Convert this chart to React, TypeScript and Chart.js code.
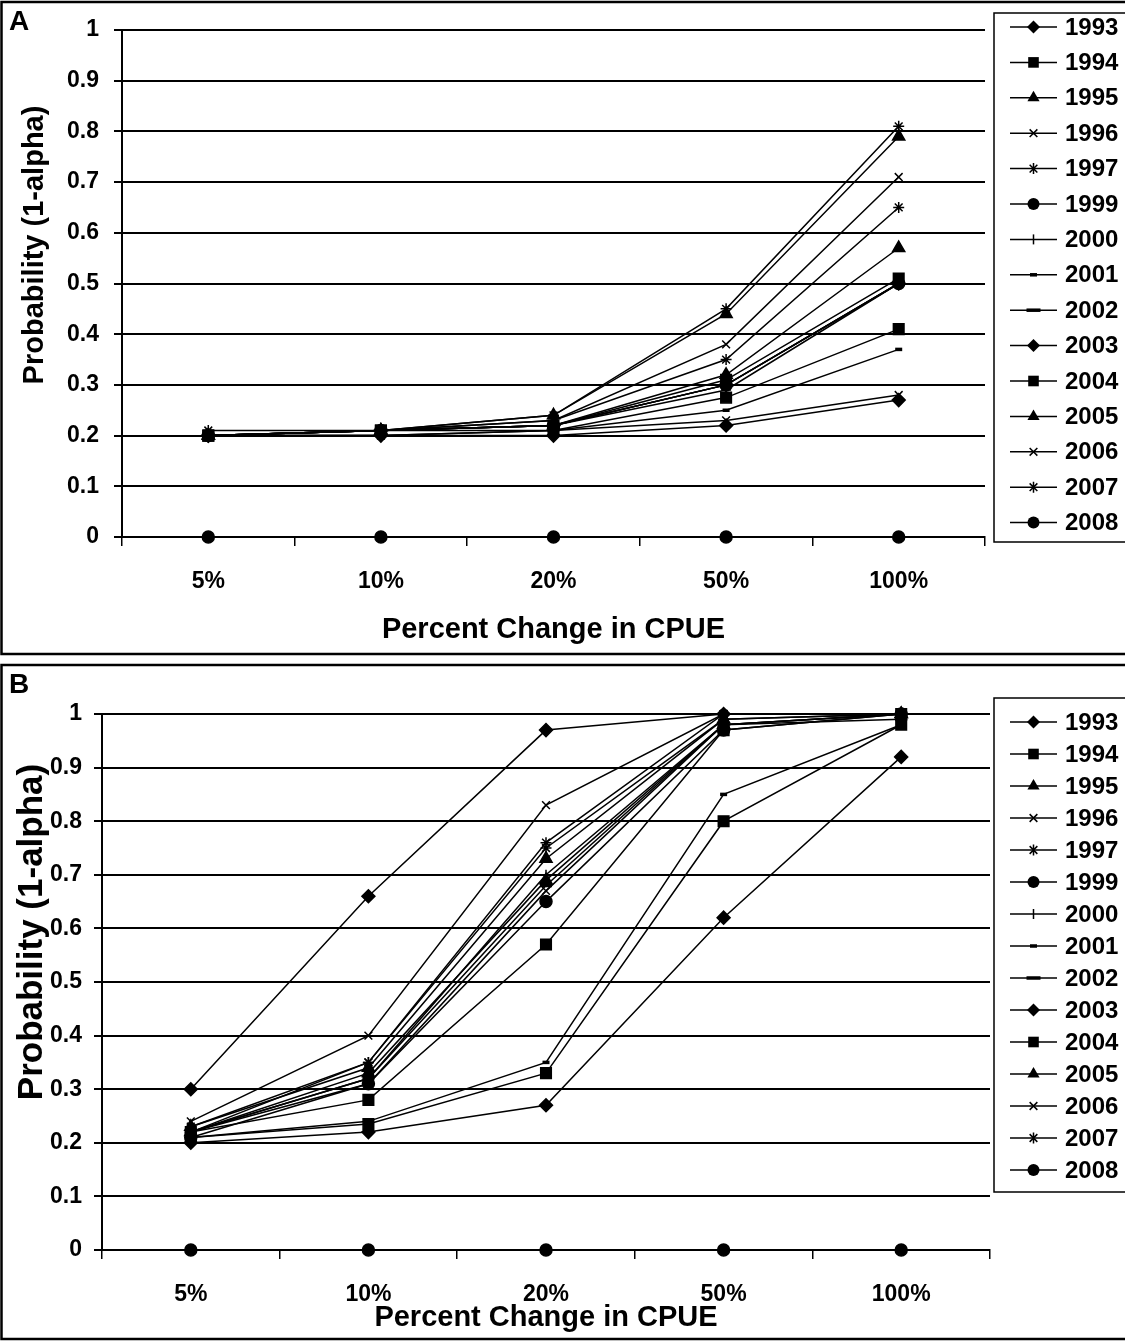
import React, { useEffect, useRef } from 'react';
import { Chart, registerables } from 'chart.js';

Chart.register(...registerables);

const categories = ['5%', '10%', '20%', '50%', '100%'];
const years = ['1993', '1994', '1995', '1996', '1997', '1999', '2000', '2001', '2002', '2003', '2004', '2005', '2006', '2007', '2008'];
const yTickStep = 0.1;
const yAxisTitle = 'Probability (1-alpha)';
const xAxisTitle = 'Percent Change in CPUE';

// Panel A values (probability at 5%, 10%, 20%, 50%, 100%)
const A_1993 = [0.20, 0.21, 0.22, 0.30, 0.50];
const A_1994 = [0.20, 0.21, 0.22, 0.31, 0.51];
const A_1995 = [0.20, 0.21, 0.24, 0.44, 0.79];
const A_1996 = [0.20, 0.21, 0.23, 0.38, 0.71];
const A_1997 = [0.21, 0.21, 0.24, 0.45, 0.81];
const A_1999 = [0.20, 0.21, 0.22, 0.30, 0.50];
const A_2000 = [0.20, 0.21, 0.22, 0.29, 0.50];
const A_2001 = [0.20, 0.20, 0.21, 0.25, 0.37];
const A_2002 = [0.20, 0.21, 0.22, 0.30, 0.50];
const A_2003 = [0.20, 0.20, 0.20, 0.22, 0.27];
const A_2004 = [0.20, 0.21, 0.21, 0.275, 0.41];
const A_2005 = [0.20, 0.21, 0.22, 0.32, 0.57];
const A_2006 = [0.20, 0.20, 0.21, 0.23, 0.28];
const A_2007 = [0.20, 0.21, 0.23, 0.35, 0.65];
const A_2008 = [0, 0, 0, 0, 0];

// Panel B values
const B_1993 = [0.30, 0.66, 0.97, 1.0, 1.0];
const B_1994 = [0.22, 0.28, 0.57, 0.97, 1.0];
const B_1995 = [0.23, 0.34, 0.73, 0.99, 1.0];
const B_1996 = [0.24, 0.40, 0.83, 1.0, 1.0];
const B_1997 = [0.23, 0.35, 0.76, 1.0, 1.0];
const B_1999 = [0.21, 0.31, 0.65, 0.97, 1.0];
const B_2000 = [0.22, 0.32, 0.70, 0.98, 1.0];
const B_2001 = [0.21, 0.24, 0.35, 0.85, 0.98];
const B_2002 = [0.22, 0.32, 0.68, 0.98, 0.99];
const B_2003 = [0.20, 0.22, 0.27, 0.62, 0.92];
const B_2004 = [0.21, 0.235, 0.33, 0.80, 0.98];
const B_2005 = [0.22, 0.33, 0.69, 0.98, 1.0];
const B_2006 = [0.22, 0.31, 0.67, 0.98, 1.0];
const B_2007 = [0.22, 0.35, 0.75, 0.99, 1.0];
const B_2008 = [0, 0, 0, 0, 0];

const seriesA = [A_1993, A_1994, A_1995, A_1996, A_1997, A_1999, A_2000, A_2001, A_2002, A_2003, A_2004, A_2005, A_2006, A_2007, A_2008];
const seriesB = [B_1993, B_1994, B_1995, B_1996, B_1997, B_1999, B_2000, B_2001, B_2002, B_2003, B_2004, B_2005, B_2006, B_2007, B_2008];

// marker styles per year (style only)
const markerStyles = ['rectRot', 'rect', 'triangle', 'crossRot', 'star', 'circle', 'cross', 'line', 'line', 'rectRot', 'rect', 'triangle', 'crossRot', 'star', 'circle'];
const markerRadius: Record<string, number> = { rectRot: 6.5, rect: 7.5, triangle: 7, crossRot: 5.5, star: 5.5, circle: 6, cross: 5, line: 4 };

const FONT = "'Liberation Sans', Arial, sans-serif";

function drawMarker(ctx: CanvasRenderingContext2D, style: string, x: number, y: number, r: number, idx: number) {
  ctx.save();
  ctx.fillStyle = '#000';
  ctx.strokeStyle = '#000';
  ctx.lineWidth = 1.5;
  ctx.beginPath();
  if (style === 'rectRot') {
    ctx.moveTo(x, y - r); ctx.lineTo(x + r, y); ctx.lineTo(x, y + r); ctx.lineTo(x - r, y); ctx.closePath(); ctx.fill();
  } else if (style === 'rect') {
    const s = r * Math.SQRT1_2;
    ctx.rect(x - s, y - s, 2 * s, 2 * s); ctx.fill();
  } else if (style === 'triangle') {
    ctx.moveTo(x, y - r); ctx.lineTo(x + r * 0.87, y + r * 0.5); ctx.lineTo(x - r * 0.87, y + r * 0.5); ctx.closePath(); ctx.fill();
  } else if (style === 'crossRot') {
    const d = r * 0.7;
    ctx.moveTo(x - d, y - d); ctx.lineTo(x + d, y + d); ctx.moveTo(x + d, y - d); ctx.lineTo(x - d, y + d); ctx.stroke();
  } else if (style === 'star') {
    const d = r * 0.7;
    ctx.moveTo(x - d, y - d); ctx.lineTo(x + d, y + d); ctx.moveTo(x + d, y - d); ctx.lineTo(x - d, y + d);
    ctx.moveTo(x, y - r); ctx.lineTo(x, y + r); ctx.stroke();
  } else if (style === 'circle') {
    ctx.arc(x, y, r, 0, Math.PI * 2); ctx.fill();
  } else if (style === 'cross') {
    ctx.moveTo(x, y - r); ctx.lineTo(x, y + r); ctx.stroke();
  } else if (style === 'line') {
    ctx.lineWidth = 3.5;
    const w = idx === 8 ? 7 : 3.5;
    ctx.moveTo(x - w, y); ctx.lineTo(x + w, y); ctx.stroke();
  }
  ctx.restore();
}

type PanelCfg = {
  letter: string;
  values: number[][];
  width: number;
  height: number;
  top: number;
  padTop: number;
  padRight: number;
  yWidth: number;
  xHeight: number;
  yLabelPad: number;
  xLabelPad: number;
  xTitlePad: number;
  yTitleX: number;
  yTitleY: number;
  yTitleSize: number;
  borderTop: number;
  borderBottom: number;
  letterY: number;
  legendTop: number;
  legendBottom: number;
  legendRow0: number;
  legendStep: number;
};

const panelA: PanelCfg = {
  letter: 'A', values: seriesA, width: 1125, height: 658, top: 0,
  padTop: 30, padRight: 140, yWidth: 122, xHeight: 121,
  yLabelPad: 15, xLabelPad: 22, xTitlePad: 11,
  yTitleX: 35, yTitleY: 245, yTitleSize: 29,
  borderTop: 2, borderBottom: 654, letterY: 22,
  legendTop: 13, legendBottom: 542, legendRow0: 27, legendStep: 35.4,
};

const panelB: PanelCfg = {
  letter: 'B', values: seriesB, width: 1125, height: 683, top: 658,
  padTop: 56, padRight: 135, yWidth: 102, xHeight: 91,
  yLabelPad: 12, xLabelPad: 22, xTitlePad: 6,
  yTitleX: 32, yTitleY: 274, yTitleSize: 35,
  borderTop: 7, borderBottom: 681, letterY: 27,
  legendTop: 40, legendBottom: 534, legendRow0: 64, legendStep: 32,
};

function Panel({ cfg }: { cfg: PanelCfg }) {
  const ref = useRef<HTMLCanvasElement>(null);
  useEffect(() => {
    const canvas = ref.current;
    if (!canvas) return;
    const deco = {
      id: 'panelDeco',
      afterDraw(chart: any) {
        const ctx: CanvasRenderingContext2D = chart.ctx;
        ctx.save();
        ctx.strokeStyle = '#000';
        ctx.lineWidth = 2.5;
        ctx.beginPath();
        ctx.moveTo(cfg.width + 5, cfg.borderTop);
        ctx.lineTo(1.5, cfg.borderTop);
        ctx.lineTo(1.5, cfg.borderBottom);
        ctx.lineTo(cfg.width + 5, cfg.borderBottom);
        ctx.stroke();
        ctx.fillStyle = '#000';
        ctx.font = `bold 28px ${FONT}`;
        ctx.textAlign = 'left';
        ctx.textBaseline = 'middle';
        ctx.fillText(cfg.letter, 9, cfg.letterY);
        // y axis title
        ctx.save();
        ctx.translate(cfg.yTitleX, cfg.yTitleY);
        ctx.rotate(-Math.PI / 2);
        ctx.textAlign = 'center';
        ctx.textBaseline = 'middle';
        ctx.font = `bold ${cfg.yTitleSize}px ${FONT}`;
        ctx.fillText(yAxisTitle, 0, 0);
        ctx.restore();
        // legend box
        ctx.lineWidth = 1.5;
        ctx.beginPath();
        ctx.moveTo(cfg.width + 5, cfg.legendTop);
        ctx.lineTo(994, cfg.legendTop);
        ctx.lineTo(994, cfg.legendBottom);
        ctx.lineTo(cfg.width + 5, cfg.legendBottom);
        ctx.stroke();
        ctx.font = `bold 24px ${FONT}`;
        ctx.textAlign = 'left';
        ctx.textBaseline = 'middle';
        years.forEach((yr, i) => {
          const y = cfg.legendRow0 + i * cfg.legendStep;
          ctx.beginPath();
          ctx.lineWidth = 1.5;
          ctx.moveTo(1010, y);
          ctx.lineTo(1057, y);
          ctx.stroke();
          const st = markerStyles[i];
          drawMarker(ctx, st, 1033.5, y, markerRadius[st], i);
          ctx.fillText(yr, 1065, y + 1);
        });
        ctx.restore();
      },
    };
    const datasets = years.map((yr, i) => {
      const st = markerStyles[i];
      const isLine = st === 'line';
      return {
        label: yr,
        data: cfg.values[i],
        borderColor: '#000',
        backgroundColor: '#000',
        borderWidth: 1.5,
        pointStyle: st,
        pointRadius: isLine ? (i === 8 ? 6 : 3.5) : markerRadius[st],
        pointBorderWidth: isLine ? 3.5 : 1.5,
        pointBackgroundColor: '#000',
        pointBorderColor: '#000',
        tension: 0,
        clip: false,
      };
    });
    const chart = new Chart(canvas, {
      type: 'line',
      data: { labels: categories, datasets },
      options: {
        responsive: false,
        animation: false,
        events: [],
        layout: { padding: { top: cfg.padTop, right: cfg.padRight, left: 0, bottom: 0 } },
        plugins: { legend: { display: false }, tooltip: { enabled: false } },
        scales: {
          x: {
            type: 'category',
            offset: true,
            afterFit: (s: any) => { s.height = cfg.xHeight; },
            grid: { offset: true, drawOnChartArea: false, drawTicks: true, tickLength: 9, color: '#000', lineWidth: 1.5 },
            border: { display: true, color: '#000', width: 2 },
            ticks: { color: '#000', font: { family: FONT, size: 23, weight: 'bold' }, padding: cfg.xLabelPad, maxRotation: 0 },
            title: { display: true, text: xAxisTitle, color: '#000', font: { family: FONT, size: 29, weight: 'bold' }, padding: { top: 0, bottom: cfg.xTitlePad } },
          },
          y: {
            min: 0,
            max: 1,
            afterFit: (s: any) => { s.width = cfg.yWidth; },
            grid: { drawOnChartArea: true, drawTicks: true, tickLength: 8, color: '#000', lineWidth: 2 },
            border: { display: true, color: '#000', width: 2 },
            ticks: {
              stepSize: yTickStep,
              color: '#000',
              font: { family: FONT, size: 23, weight: 'bold' },
              padding: cfg.yLabelPad,
              callback: (v: any) => {
                const n = Number(v);
                if (Math.abs(n) < 1e-9) return '0';
                if (Math.abs(n - 1) < 1e-9) return '1';
                return n.toFixed(1);
              },
            },
            title: { display: false },
          },
        },
      },
      plugins: [deco],
    } as any);
    return () => chart.destroy();
  }, [cfg]);
  return (
    <canvas
      ref={ref}
      width={cfg.width}
      height={cfg.height}
      style={{ position: 'absolute', left: 0, top: cfg.top, width: cfg.width, height: cfg.height, display: 'block' }}
    />
  );
}

export default function App() {
  return (
    <div style={{ position: 'absolute', left: 0, top: 0, width: 1125, height: 1341, background: '#fff', overflow: 'hidden' }}>
      <Panel cfg={panelA} />
      <Panel cfg={panelB} />
    </div>
  );
}
